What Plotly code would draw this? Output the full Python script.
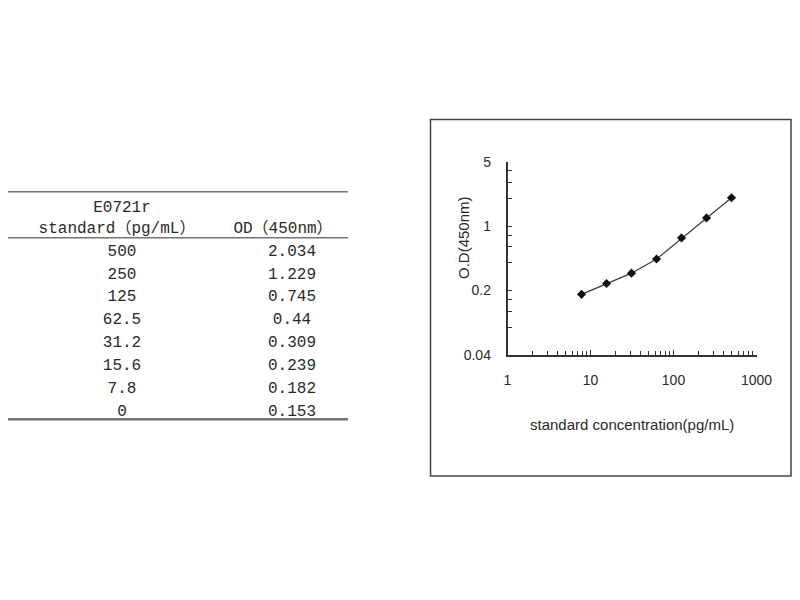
import plotly.graph_objects as go

# ─────────────────────────────────────────────
# 数据：E0721r 标准曲线
# ─────────────────────────────────────────────
kit_name = "E0721r"
conc_header = "standard（pg/mL）"
od_header = "OD（450nm）"
conc_labels = ["500", "250", "125", "62.5", "31.2", "15.6", "7.8", "0"]
conc = [500, 250, 125, 62.5, 31.2, 15.6, 7.8, 0]
od = [2.034, 1.229, 0.745, 0.44, 0.309, 0.239, 0.182, 0.153]
od_labels = ["2.034", "1.229", "0.745", "0.44", "0.309", "0.239", "0.182", "0.153"]

x_ticks = [1, 10, 100, 1000]
x_ticktext = ["1", "10", "100", "1000"]
y_ticks = [0.04, 0.2, 1, 5]
y_ticktext = ["0.04", "0.2", "1", "5"]
y_minor = [0.08, 0.12, 0.16, 0.4, 0.6, 0.8, 2, 3, 4]
x_minor = [m * d for d in (1, 10, 100) for m in range(2, 10)]

# 页面 body 四周有 8px 边距：图缩小到不溢出窗口，版面位置按参考图像素换算
OX, OY = 8, 8
W, H = 800 - 2 * OX, 600 - 2 * OY


def px(x):
    return (x - OX) / W


def py(y):
    return 1 - (y - OY) / H


TXT = "#2a2a2a"
AXC = "#333333"
RULE = "#747474"
TABLE_FONT = "Liberation Mono, Noto Sans CJK SC, monospace"
SANS = "Liberation Sans, Arial"

fig = go.Figure()

# ─── 右侧：标准曲线（log-log）───
pts = [(c, v) for c, v in zip(conc, od) if c > 0]
fig.add_trace(go.Scatter(
    x=[p[0] for p in pts], y=[p[1] for p in pts],
    mode="lines+markers",
    line=dict(color="#3a3a3a", width=1.2),
    marker=dict(symbol="diamond", size=7, color="#111111"),
    showlegend=False, hoverinfo="x+y",
    xaxis="x", yaxis="y",
))

# ─── 左侧：数据表（像素坐标轴）───
row_y0, row_h = 251.7, 22.86
rows_y = [row_y0 + i * row_h for i in range(len(conc_labels))]
tfont = dict(family=TABLE_FONT, size=16, color=TXT)
fig.add_trace(go.Scatter(
    x=[122] * len(conc_labels), y=rows_y, text=conc_labels,
    mode="text", textfont=tfont,
    showlegend=False, hoverinfo="skip", xaxis="x2", yaxis="y2",
))
fig.add_trace(go.Scatter(
    x=[292] * len(od_labels), y=rows_y, text=od_labels,
    mode="text", textfont=tfont,
    showlegend=False, hoverinfo="skip", xaxis="x2", yaxis="y2",
))
fig.add_trace(go.Scatter(
    x=[122, 117, 283], y=[207.7, 228.5, 228.5],
    text=[kit_name, conc_header, od_header],
    mode="text", textfont=tfont,
    showlegend=False, hoverinfo="skip", xaxis="x2", yaxis="y2",
))

# 表格横线
for yy, lw in [(191.7, 1.5), (237.7, 1.5), (419.3, 2.5)]:
    fig.add_shape(type="line", xref="x2", yref="y2",
                  x0=0, x1=348, y0=yy, y1=yy,
                  line=dict(color=RULE, width=lw))

# 图框（右边缘受窗口限制，略向内收）
fig.add_shape(type="rect", xref="paper", yref="paper",
              x0=px(430.5), x1=px(791), y0=py(476), y1=py(119.5),
              line=dict(color="#444444", width=1.5))

fig.add_annotation(text="O.D(450nm)", xref="paper", yref="paper",
                   x=px(463), y=py(238), xanchor="center", yanchor="middle",
                   textangle=-90, showarrow=False,
                   font=dict(family=SANS, size=15, color=TXT))
fig.add_annotation(text="standard concentration(pg/mL)", xref="paper", yref="paper",
                   x=px(632), y=py(424), xanchor="center", yanchor="middle",
                   showarrow=False,
                   font=dict(family=SANS, size=15, color=TXT))

tick_font = dict(family=SANS, size=14, color=TXT)
fig.update_layout(
    width=W, height=H,
    margin=dict(l=0, r=0, t=0, b=0, autoexpand=False),
    paper_bgcolor="white", plot_bgcolor="white",
    xaxis=dict(
        type="log", range=[0, 3], domain=[px(507.5), px(756.5)],
        anchor="y", showgrid=False, zeroline=False,
        showline=True, linecolor=AXC, linewidth=1.5,
        tickmode="array", tickvals=x_ticks, ticktext=x_ticktext,
        ticks="inside", ticklen=5, tickcolor=AXC, tickwidth=1,
        ticklabelstandoff=11, tickfont=tick_font,
        minor=dict(tickmode="array", tickvals=x_minor, ticks="inside",
                   ticklen=4, tickcolor=AXC, tickwidth=1, showgrid=False),
    ),
    yaxis=dict(
        type="log", range=[-1.39794, 0.69897], domain=[py(355), py(161.7)],
        anchor="x", showgrid=False, zeroline=False,
        showline=True, linecolor=AXC, linewidth=1.5,
        tickmode="array", tickvals=y_ticks, ticktext=y_ticktext,
        ticks="inside", ticklen=5, tickcolor=AXC, tickwidth=1,
        ticklabelstandoff=12, tickfont=tick_font,
        minor=dict(tickmode="array", tickvals=y_minor, ticks="inside",
                   ticklen=5, tickcolor=AXC, tickwidth=1, showgrid=False),
    ),
    xaxis2=dict(range=[OX, 350], domain=[0, px(350)], anchor="y2", visible=False),
    yaxis2=dict(range=[600 - OY, OY], domain=[0, 1], anchor="x2", visible=False),
)

fig.write_html("out.html")
